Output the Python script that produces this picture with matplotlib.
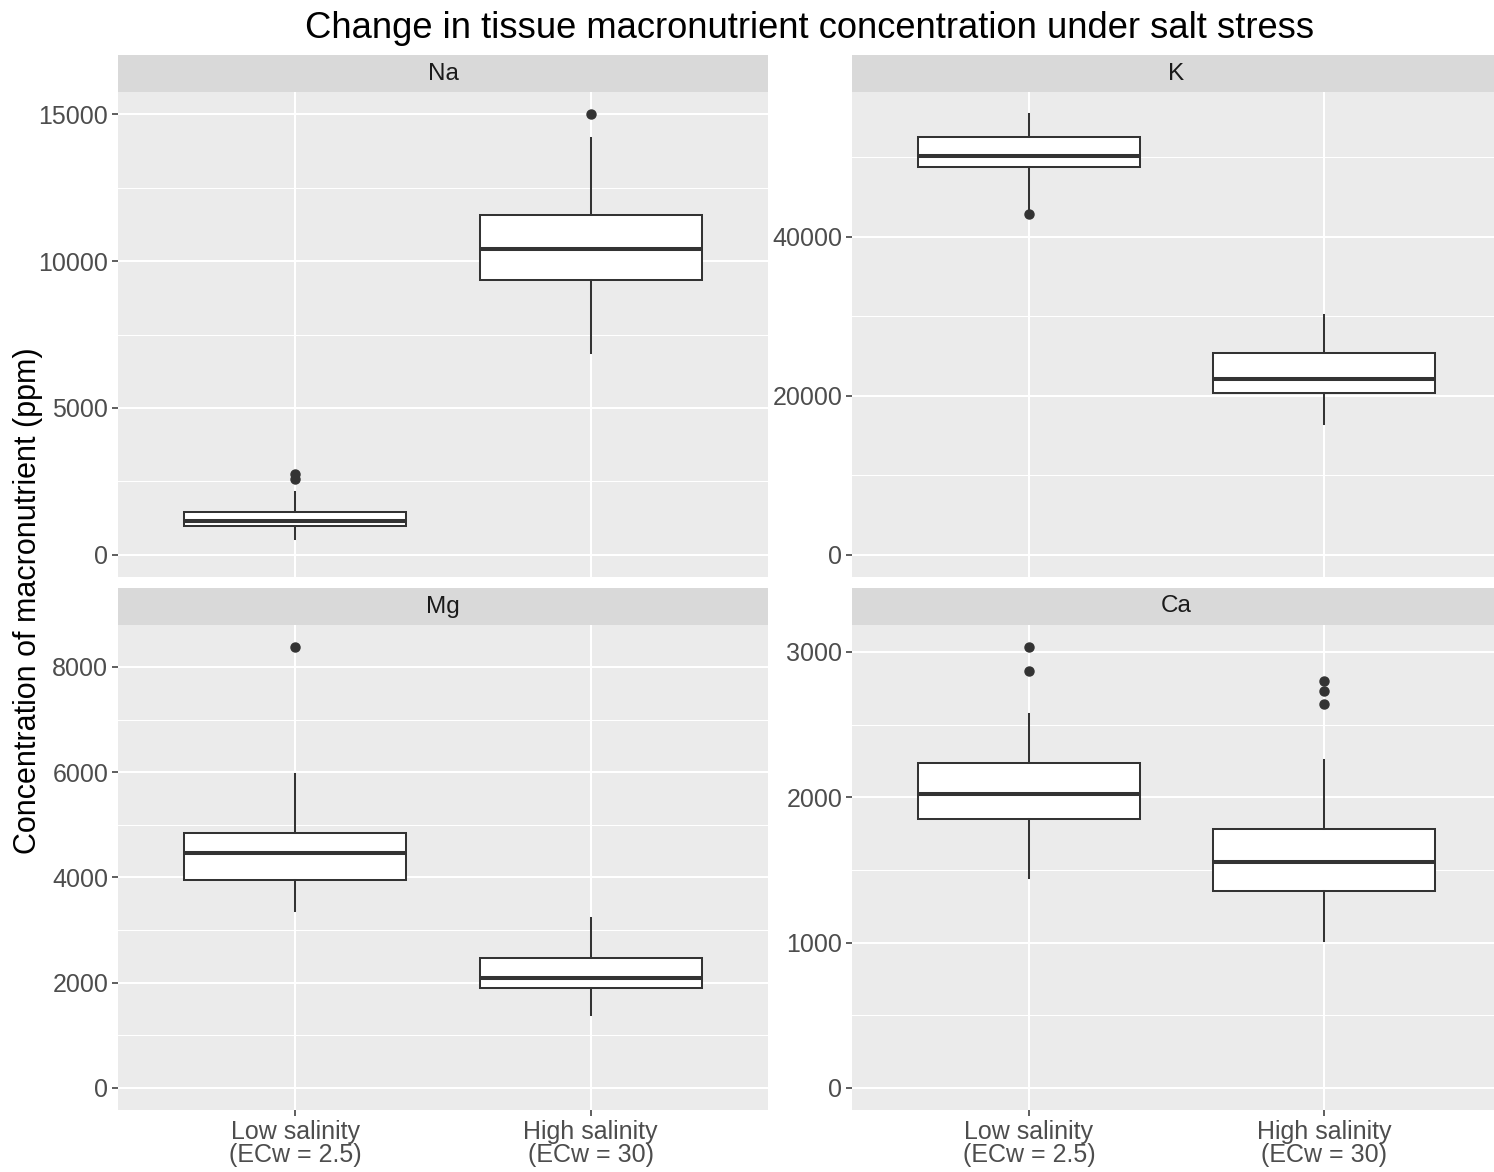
import matplotlib.pyplot as plt
from matplotlib.ticker import FixedLocator

plt.rcParams['font.family'] = ['Liberation Sans', 'DejaVu Sans']

groups = ['Low salinity\n(ECw = 2.5)', 'High salinity\n(ECw = 30)']
nutrients = ['Na', 'K', 'Mg', 'Ca']

# box stats per group: (whislo, q1, median, q3, whishi)
na_box = [(544, 986, 1156, 1462, 2143), (6870, 9353, 10408, 11564, 14183)]
na_out = [[2585, 2755], [15000]]
k_box = [(43386, 48777, 50157, 52539, 55423), (16426, 20313, 22069, 25329, 30219)]
k_out = [[42884], []]
mg_box = [(3355, 3943, 4474, 4853, 5972), (1384, 1896, 2085, 2464, 3223)]
mg_out = [[8379], []]
ca_box = [(1448, 1853, 2025, 2238, 2574), (1009, 1352, 1558, 1785, 2259)]
ca_out = [[3034, 2870], [2801, 2732, 2643]]

na_ticks = [0, 5000, 10000, 15000]
k_ticks = [0, 20000, 40000]
mg_ticks = [0, 2000, 4000, 6000, 8000]
ca_ticks = [0, 1000, 2000, 3000]

panels = [
    ('Na', na_box, na_out, na_ticks),
    ('K', k_box, k_out, k_ticks),
    ('Mg', mg_box, mg_out, mg_ticks),
    ('Ca', ca_box, ca_out, ca_ticks),
]

W, H = 1494, 1172
fig = plt.figure(figsize=(W / 100, H / 100), dpi=100)

# panel rectangles in pixels: left, top, right, bottom (right column runs past the edge)
rects = [(118, 92, 768, 577), (852, 92, 1501, 577),
         (118, 625, 768, 1110), (852, 625, 1501, 1110)]
strip_h = 37

def fig_box(l, t, r, b):
    return [l / W, 1 - b / H, (r - l) / W, (b - t) / H]

for i, (name, box, out, ticks) in enumerate(panels):
    l, t, r, b = rects[i]
    ax = fig.add_axes(fig_box(l, t, r, b))
    ax.set_facecolor('#EBEBEB')
    stats = []
    for j in range(2):
        wl, q1, med, q3, wh = box[j]
        stats.append(dict(whislo=wl, q1=q1, med=med, q3=q3, whishi=wh,
                          fliers=out[j], label=groups[j]))
    ax.bxp(stats, positions=[1, 2], widths=0.75, showcaps=False,
           patch_artist=True, zorder=3,
           boxprops=dict(facecolor='white', edgecolor='#333333', linewidth=1.45),
           whiskerprops=dict(color='#333333', linewidth=1.45),
           medianprops=dict(color='#333333', linewidth=2.9, solid_capstyle='butt'),
           flierprops=dict(marker='o', markerfacecolor='#333333',
                           markeredgecolor='#333333', markersize=6.5))
    top = max(max(bx[4] for bx in box), max([max(o) for o in out if o]))
    ax.set_ylim(-0.05 * top, 1.05 * top)
    ax.set_xlim(0.4, 2.6)
    ax.yaxis.set_major_locator(FixedLocator(ticks))
    step = ticks[1] - ticks[0]
    minors = [v + step / 2 for v in ticks] + [ticks[0] - step / 2]
    ax.yaxis.set_minor_locator(FixedLocator(minors))
    ax.grid(which='major', color='white', linewidth=1.5, zorder=0)
    ax.grid(which='minor', axis='y', color='white', linewidth=0.75, zorder=0)
    ax.set_axisbelow(True)
    for s in ax.spines.values():
        s.set_visible(False)
    ax.tick_params(axis='both', which='major', length=4, width=1.1,
                   color='#333333', labelcolor='#4D4D4D', labelsize=18, pad=3)
    ax.tick_params(axis='y', which='minor', length=0)
    if i < 2:
        ax.tick_params(axis='x', labelbottom=False, length=0)
    else:
        ax.set_xticklabels(groups, linespacing=0.95)
    # strip
    sax = fig.add_axes(fig_box(l, t - strip_h, r, t))
    sax.set_facecolor('#D9D9D9')
    sax.set_xticks([])
    sax.set_yticks([])
    for s in sax.spines.values():
        s.set_visible(False)
    sax.text(0.5, 0.5, name, ha='center', va='center', fontsize=17.5,
             color='#1A1A1A', transform=sax.transAxes)

fig.text((118 + 1501) / 2 / W, 1 - 28 / H,
         'Change in tissue macronutrient concentration under salt stress',
         ha='center', va='center', fontsize=26.2, color='black')
fig.text(28 / W, 1 - 601 / H, 'Concentration of macronutrient (ppm)',
         ha='center', va='center', rotation=90, fontsize=22, color='black')

fig.savefig('out.png', dpi=100)
